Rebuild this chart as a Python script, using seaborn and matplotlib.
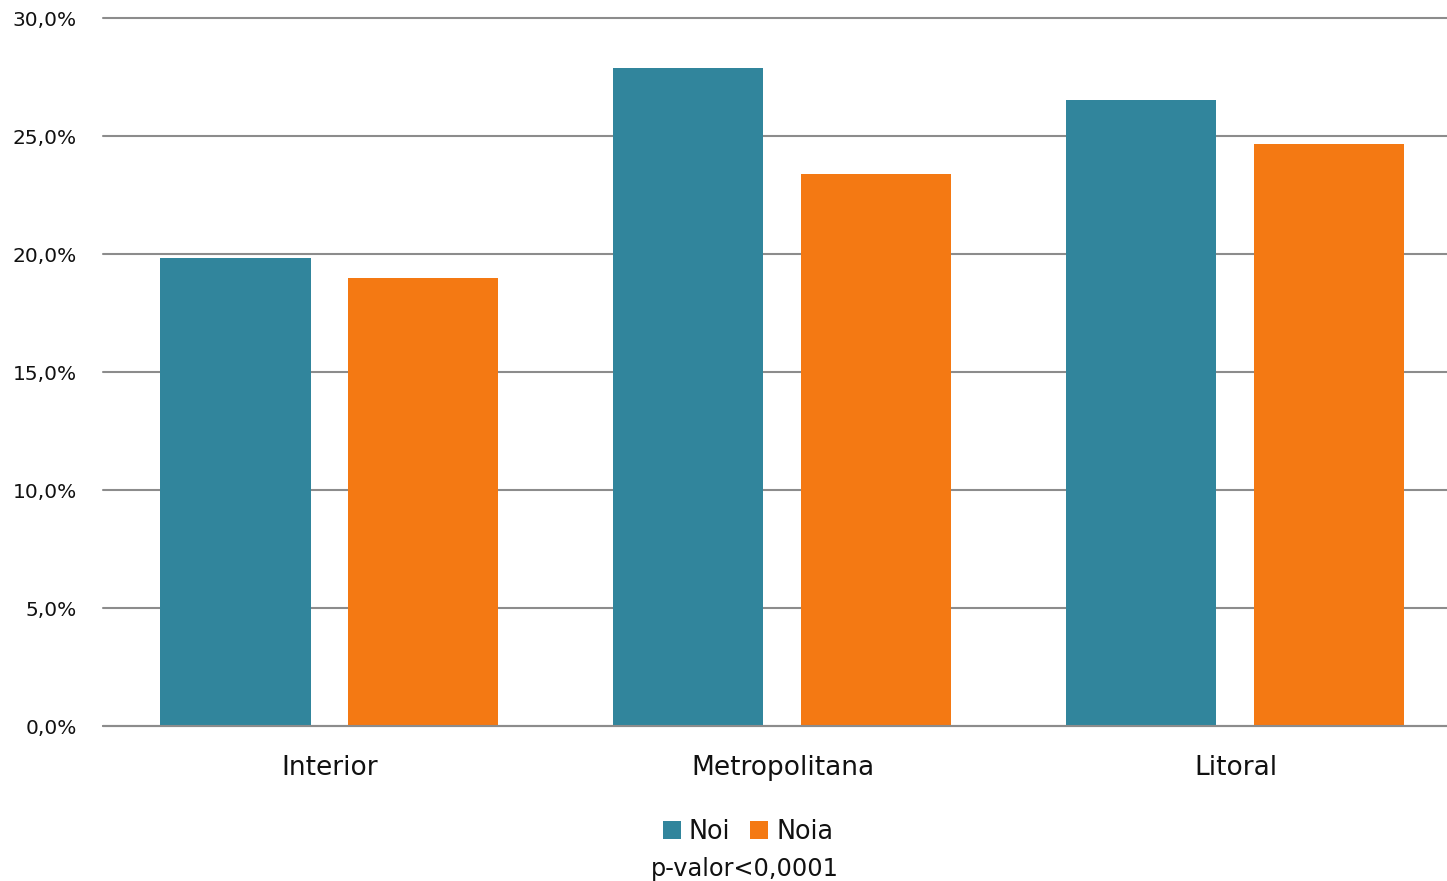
import pandas as pd
import seaborn as sns
import matplotlib.pyplot as plt
from matplotlib.ticker import FuncFormatter, MultipleLocator

zones = ["Interior", "Metropolitana", "Litoral"]
groups = ["Noi", "Noia"]
noi = [19.85, 27.87, 26.53]
noia = [18.98, 23.38, 24.65]
colors = ["#31859C", "#F47913"]

df = pd.DataFrame({
    "Zona": zones * 2,
    "Grup": [groups[0]] * 3 + [groups[1]] * 3,
    "Valor": noi + noia,
})

sns.set_style("white")
plt.rcParams["font.family"] = ["DejaVu Sans"]

fig = plt.figure(figsize=(14.47, 8.81), dpi=100)
ax = fig.add_axes([103 / 1447, 155 / 881, 1344 / 1447, 708 / 881])

sns.barplot(data=df, x="Zona", y="Valor", hue="Grup", palette=colors,
            width=0.83, gap=0.202, saturation=1, linewidth=0, ax=ax, zorder=3)

ax.set_ylim(0, 30)
ax.set_xlim(-0.5, 2.467)
ax.yaxis.set_major_locator(MultipleLocator(5))
ax.yaxis.set_major_formatter(FuncFormatter(lambda v, p: f"{v:.1f}%".replace(".", ",")))
ax.grid(axis="y", color="#8c8c8c", linewidth=1.5, zorder=0)
for gl in ax.get_ygridlines():
    gl.set_clip_on(False)
ax.axhline(0, color="#8c8c8c", linewidth=1.5, clip_on=False, zorder=4)
ax.set_axisbelow(True)
sns.despine(ax=ax, left=True, bottom=True)
ax.set_xlabel("")
ax.set_ylabel("")
ax.tick_params(axis="y", length=0, pad=19, labelsize=14.5, labelcolor="#111111")
ax.tick_params(axis="x", length=0, pad=21, labelsize=19, labelcolor="#111111")

handles, labels = ax.get_legend_handles_labels()
ax.get_legend().remove()
fig.legend(handles, labels, loc="center", bbox_to_anchor=(0.517, 0.056), ncol=2,
           frameon=False, fontsize=18.4, handlelength=0.7, handleheight=0.7,
           handletextpad=0.31, columnspacing=0.78, labelcolor="#111111")
fig.text(0.515, 12 / 881, "p-valor<0,0001", ha="center", va="center",
         fontsize=17.3, color="#111111")

fig.savefig("out.png", dpi=100)
